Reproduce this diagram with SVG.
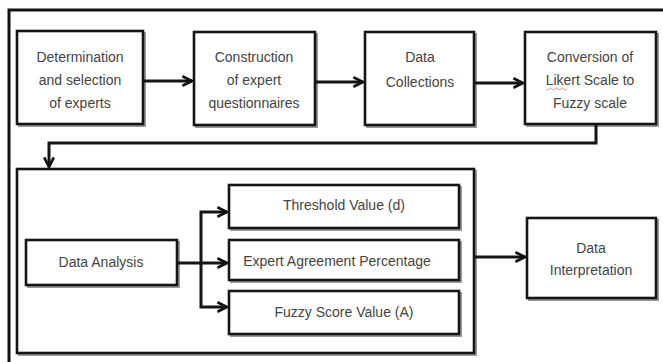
<svg xmlns="http://www.w3.org/2000/svg" width="663" height="362" viewBox="0 0 663 362">
<defs>
<marker id="ah" viewBox="0 0 10 10" refX="9" refY="5" markerWidth="4" markerHeight="4" orient="auto" markerUnits="strokeWidth">
<path d="M1,1 L9,5 L1,9" fill="none" stroke="#111" stroke-width="2.2" stroke-linejoin="miter"/>
</marker>
</defs>
<style>
.box{fill:#fff;stroke:#151515;stroke-width:2.6}
.sh{fill:none;stroke:#999;stroke-width:2}
.t{font-family:"Liberation Sans",Arial,sans-serif;font-size:14px;fill:#444;text-anchor:middle}
.c{fill:none;stroke:#151515;stroke-width:3}
</style>
<rect width="663" height="362" fill="#fff"/>
<path d="M9,362 V10 H663" fill="none" stroke="#111" stroke-width="3"/>
<g id="n1"><rect class="sh" x="19" y="33" width="126" height="93"/><rect class="box" x="17" y="31" width="126" height="93"/>
<text class="t" x="80" y="62">Determination</text><text class="t" x="80" y="85">and selection</text><text class="t" x="80" y="108">of experts</text></g>
<g id="n2"><rect class="sh" x="196" y="34" width="121" height="93"/><rect class="box" x="194" y="32" width="121" height="93"/>
<text class="t" x="254" y="62">Construction</text><text class="t" x="254" y="85">of expert</text><text class="t" x="254" y="108">questionnaires</text></g>
<g id="n3"><rect class="sh" x="367" y="34" width="109" height="93"/><rect class="box" x="365" y="32" width="109" height="93"/>
<text class="t" x="420" y="62">Data</text><text class="t" x="420" y="87">Collections</text></g>
<g id="n4"><rect class="sh" x="527" y="34" width="131" height="92"/><rect class="box" x="525" y="32" width="131" height="92"/>
<text class="t" x="590" y="62">Conversion of</text><text class="t" x="590" y="85">Likert Scale to</text><text class="t" x="590" y="108">Fuzzy scale</text>
<path d="M546,89 q1.5,2 3,0 t3,0 t3,0 t3,0 t3,0 t3,0 t3,0" fill="none" stroke="#e07070" stroke-width="0.8"/></g>
<g id="n5"><rect class="sh" x="19" y="171" width="457" height="184"/><rect class="box" x="17" y="169" width="457" height="184"/></g>
<g id="n6"><rect class="sh" x="28" y="242" width="151" height="45"/><rect class="box" x="26" y="240" width="151" height="45"/>
<text class="t" x="101" y="267">Data Analysis</text></g>
<g id="n7"><rect class="sh" x="231" y="187" width="230" height="43"/><rect class="box" x="229" y="185" width="230" height="43"/>
<text class="t" x="344" y="210">Threshold Value (d)</text></g>
<g id="n8"><rect class="sh" x="231" y="242" width="230" height="40"/><rect class="box" x="229" y="240" width="230" height="40"/>
<text class="t" x="337" y="266">Expert Agreement Percentage</text></g>
<g id="n9"><rect class="sh" x="231" y="293" width="230" height="43"/><rect class="box" x="229" y="291" width="230" height="43"/>
<text class="t" x="344" y="317">Fuzzy Score Value (A)</text></g>
<g id="n10"><rect class="sh" x="529" y="220" width="129" height="80"/><rect class="box" x="527" y="218" width="129" height="80"/>
<text class="t" x="591" y="253">Data</text><text class="t" x="591" y="275">Interpretation</text></g>
<g id="connectors">
<path class="c" d="M143,81 H192" marker-end="url(#ah)"/>
<path class="c" d="M315,82 H363" marker-end="url(#ah)"/>
<path class="c" d="M474,83 H523" marker-end="url(#ah)"/>
<path class="c" d="M596,124 V143 H49 V167" marker-end="url(#ah)"/>
<path class="c" d="M177,263 H227" marker-end="url(#ah)"/>
<path class="c" d="M201,263 V212 H227" marker-end="url(#ah)"/>
<path class="c" d="M201,263 V307 H227" marker-end="url(#ah)"/>
<path class="c" d="M474,257 H525" marker-end="url(#ah)"/>
</g>
</svg>
